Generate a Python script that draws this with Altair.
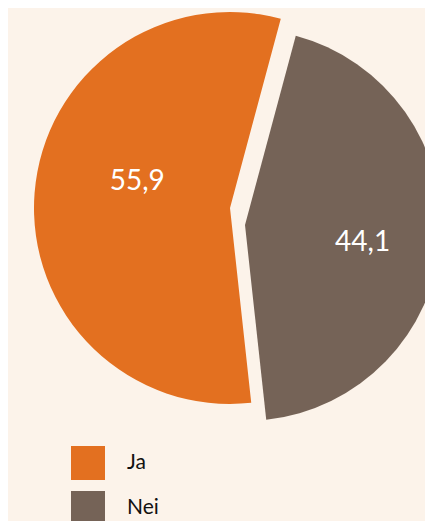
import altair as alt
import pandas as pd

categories = ["Ja", "Nei"]
values = [55.9, 44.1]
labels = ["55,9", "44,1"]
colors = ["#E37020", "#756357"]

df = pd.DataFrame({"cat": categories, "value": values, "label": labels, "order": [0, 1]})

start = 3.033
theta_scale = alt.Scale(domain=[0, 100], range=[start, start + 6.283185])
color_scale = alt.Scale(domain=categories, range=colors)

base = alt.Chart(df).transform_window(
    cum="sum(value)", sort=[alt.SortField("order")], frame=[None, 0]
).transform_calculate(
    v0="datum.cum - datum.value", vm="datum.cum - datum.value/2"
)

R = 196
centers = {"Ja": (222, 200), "Nei": (237, 217)}
text_offsets = {"Ja": (96, 3, -19), "Nei": (118, 0, 9)}

layers = []
for i, c in enumerate(categories):
    cx, cy = centers[c]
    arc = base.transform_filter(alt.datum.cat == c).mark_arc(radius=R, stroke=None).encode(
        theta=alt.Theta("v0:Q", scale=theta_scale),
        theta2="cum:Q",
        color=alt.Color("cat:N", scale=color_scale, sort=categories,
                        legend=alt.Legend(title=None, orient="none", legendX=63, legendY=438,
                                          symbolType="square", symbolSize=1156,
                                          symbolStrokeWidth=0, rowPadding=11, labelOffset=22,
                                          labelFontSize=21, labelFont="Lato", labelColor="#111111",
                                          padding=0, symbolOpacity=1)),
        x=alt.value(cx), y=alt.value(cy),
    )
    rad, dx, dy = text_offsets[c]
    txt = base.transform_filter(alt.datum.cat == c).mark_text(
        radius=rad, dx=dx, dy=dy, fontSize=28, font="Lato", color="white"
    ).encode(
        theta=alt.Theta("vm:Q", scale=theta_scale),
        text="label:N",
        x=alt.value(cx), y=alt.value(cy),
    )
    layers += [arc, txt]

chart = alt.layer(*layers).properties(
    width=417, height=513, autosize=alt.AutoSizeParams(type="none"), padding=0,
    background="#FCF3EA"
).configure_view(stroke=None)

chart.save("out.html", embed_options={"renderer": "svg", "actions": False})
